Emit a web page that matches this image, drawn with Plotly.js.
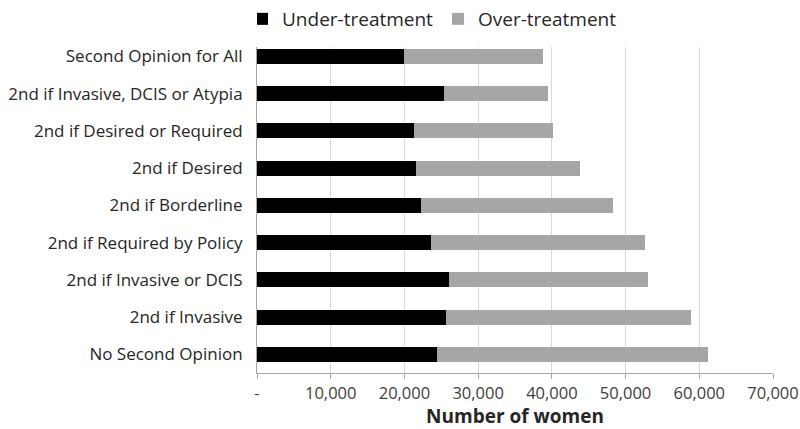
<!DOCTYPE html>
<html>
<head>
<meta charset="utf-8">
<script src="https://cdn.plot.ly/plotly-3.0.1.min.js"></script>
<style>html,body{margin:0;padding:0;background:#fff;}#chart{width:800px;height:429px;}</style>
</head>
<body>
<div id="chart"></div>
<script>
// Categories listed bottom to top
const categories = [
  "No Second Opinion",
  "2nd if Invasive",
  "2nd if Invasive or DCIS",
  "2nd if Required by Policy",
  "2nd if Borderline",
  "2nd if Desired",
  "2nd if Desired or Required",
  "2nd if Invasive, DCIS or Atypia",
  "Second Opinion for All"
];
const underTreatment = [24400, 25700, 26000, 23600, 22300, 21600, 21300, 25400, 20000];
const totalTreatment = [61200, 58900, 53100, 52700, 48300, 43800, 40200, 39500, 38800];
const overTreatment = totalTreatment.map((t, i) => t - underTreatment[i]);
const tickValues = [0, 10000, 20000, 30000, 40000, 50000, 60000, 70000];
const tickLabels = ["-", "10,000", "20,000", "30,000", "40,000", "50,000", "60,000", "70,000"];

const font = "Open Sans, sans-serif";
const data = [
  {type: "bar", orientation: "h", name: "Under-treatment", y: categories, x: underTreatment,
   marker: {color: "#000000"}, hoverinfo: "x+name"},
  {type: "bar", orientation: "h", name: "Over-treatment", y: categories, x: overTreatment,
   marker: {color: "#a6a6a6"}, hoverinfo: "x+name"}
];
const layout = {
  width: 800, height: 429,
  barmode: "stack", bargap: 0.6,
  margin: {l: 256.5, r: 27, t: 47, b: 55.7},
  paper_bgcolor: "#fff", plot_bgcolor: "#fff",
  font: {family: font, color: "#262626"},
  showlegend: true,
  legend: {orientation: "h", x: 0, xanchor: "left", y: 1, yanchor: "top",
           yref: "container", indentation: -15,
           font: {size: 19, color: "#262626", family: font},
           traceorder: "normal", entrywidth: 166},
  xaxis: {range: [0, 70000], tickvals: tickValues, ticktext: tickLabels,
          showgrid: true, gridcolor: "#d9d9d9", gridwidth: 1,
          zeroline: false, showline: true, linecolor: "#a6a6a6", linewidth: 1,
          ticks: "outside", ticklen: 5, tickcolor: "#a6a6a6",
          tickfont: {size: 16.5, color: "#404040", family: font},
          title: {text: "<b>Number of women</b>", font: {size: 19, color: "#262626", family: font}, standoff: 6},
          fixedrange: true},
  yaxis: {type: "category", categoryorder: "array", categoryarray: categories,
          range: [-0.5, 8.25], showgrid: false, zeroline: false,
          showline: true, linecolor: "#a6a6a6", linewidth: 1, ticks: "",
          ticklabelstandoff: 10,
          tickfont: {size: 17, color: "#262626", family: font},
          fixedrange: true}
};
Plotly.newPlot("chart", data, layout, {displayModeBar: false, staticPlot: true});
</script>
</body>
</html>
